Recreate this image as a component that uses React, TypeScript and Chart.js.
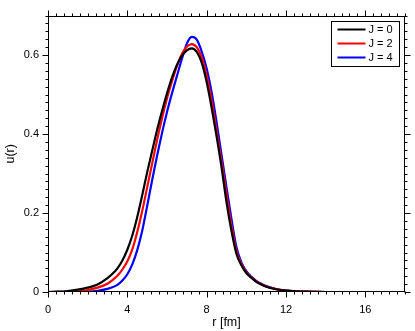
import React, { useEffect, useRef } from "react";
import { Chart, registerables } from "chart.js";

Chart.register(...registerables);

const rValues = [
  0, 0.5, 1, 1.5, 2, 2.5, 3,
  3.25, 3.5, 3.75, 4, 4.25, 4.5, 4.75, 5, 5.25, 5.5, 5.75, 6, 6.25, 6.5, 6.75, 7, 7.25, 7.5, 7.75, 8,
  8.25, 8.5, 8.75, 9, 9.25, 9.5, 9.75, 10, 10.25, 10.5, 10.75, 11,
  11.5, 12, 12.5, 13, 13.5, 14, 15, 16, 17, 18,
];
const uJ0 = [
  0, 0.0007, 0.0025, 0.006, 0.011, 0.019, 0.035,
  0.046, 0.06, 0.08, 0.107, 0.143, 0.19, 0.245, 0.303, 0.357, 0.41, 0.458, 0.503, 0.543, 0.575, 0.598, 0.612, 0.617, 0.608, 0.581, 0.532,
  0.467, 0.394, 0.316, 0.228, 0.155, 0.097, 0.068, 0.048, 0.036, 0.026, 0.019, 0.0135,
  0.007, 0.0035, 0.0017, 0.0008, 0.0003, 0, 0, 0, 0, 0,
];
const uJ2 = [
  0, 0.0002, 0.001, 0.0025, 0.005, 0.011, 0.021,
  0.03, 0.041, 0.057, 0.078, 0.108, 0.152, 0.205, 0.265, 0.325, 0.385, 0.44, 0.49, 0.533, 0.572, 0.603, 0.621, 0.628, 0.62, 0.594, 0.548,
  0.485, 0.408, 0.33, 0.248, 0.168, 0.104, 0.071, 0.05, 0.037, 0.027, 0.02, 0.014,
  0.0072, 0.0036, 0.0017, 0.0008, 0.0003, 0, 0, 0, 0, 0,
];
const uJ4 = [
  0, 0, 0.0001, 0.0004, 0.001, 0.003, 0.008,
  0.012, 0.018, 0.029, 0.045, 0.07, 0.106, 0.155, 0.218, 0.283, 0.345, 0.403, 0.456, 0.503, 0.547, 0.59, 0.629, 0.646, 0.639, 0.609, 0.566,
  0.506, 0.43, 0.347, 0.265, 0.185, 0.114, 0.075, 0.053, 0.039, 0.028, 0.021, 0.015,
  0.0075, 0.0037, 0.0018, 0.0008, 0.0003, 0, 0, 0, 0, 0,
];

const seriesLabels = ["J = 0", "J = 2", "J = 4"];
const seriesColors = ["#000000", "#ff0000", "#0000ff"];

const xTickValues = [0, 4, 8, 12, 16];
const yTickValues = [0, 0.2, 0.4, 0.6];
const xMin = 0, xMax = 18, xMinorStep = 0.4;
const yMin = 0, yMax = 0.7, yMinorStep = 0.02;

const FONT = "'Liberation Sans', Arial, Helvetica, sans-serif";

const framePlugin = {
  id: "frameTicks",
  afterDraw(chart: any) {
    const ctx = chart.ctx;
    const { left, right, top, bottom } = chart.chartArea;
    const xs = chart.scales.x;
    const ys = chart.scales.y;
    ctx.save();
    ctx.strokeStyle = "#000";
    ctx.lineWidth = 1;
    const L = Math.round(left) + 0.5, R = Math.round(right) - 0.5;
    const T = Math.round(top) + 0.5, B = Math.round(bottom) - 0.5;
    ctx.strokeRect(L, T, R - L, B - T);
    ctx.beginPath();
    const nx = Math.round((xMax - xMin) / xMinorStep);
    for (let i = 0; i <= nx; i++) {
      const v = xMin + i * xMinorStep;
      const len = i % 10 === 0 ? 6 : 3;
      const px = Math.round(xs.getPixelForValue(v)) + 0.5;
      ctx.moveTo(px, B); ctx.lineTo(px, B + len);
      ctx.moveTo(px, T); ctx.lineTo(px, T - len);
    }
    const ny = Math.round((yMax - yMin) / yMinorStep);
    for (let i = 0; i <= ny; i++) {
      const v = yMin + i * yMinorStep;
      const len = i % 10 === 0 ? 6 : 3;
      const py = Math.round(ys.getPixelForValue(v)) + 0.5;
      ctx.moveTo(L, py); ctx.lineTo(L - len, py);
      ctx.moveTo(R, py); ctx.lineTo(R + len, py);
    }
    ctx.stroke();

    // legend
    const bw = 68, bh = 45;
    const bx = Math.round(right) - 6 - bw + 0.5;
    const by = Math.round(top) + 5 + 0.5;
    ctx.fillStyle = "#fff";
    ctx.fillRect(bx, by, bw, bh);
    ctx.strokeStyle = "#000";
    ctx.lineWidth = 1;
    ctx.strokeRect(bx, by, bw, bh);
    ctx.font = `11px ${FONT}`;
    ctx.textBaseline = "middle";
    ctx.textAlign = "left";
    chart.data.datasets.forEach((ds: any, i: number) => {
      const yy = by + 8 + i * 14;
      ctx.strokeStyle = ds.borderColor;
      ctx.lineWidth = 2;
      ctx.beginPath();
      ctx.moveTo(bx + 6, yy);
      ctx.lineTo(bx + 34, yy);
      ctx.stroke();
      ctx.fillStyle = "#000";
      ctx.fillText(ds.label, bx + 37, yy + 0.5);
    });
    ctx.restore();
  },
};

export default function App() {
  const ref = useRef<HTMLCanvasElement | null>(null);
  useEffect(() => {
    if (!ref.current) return;
    const series = [uJ0, uJ2, uJ4];
    const chart = new Chart(ref.current, {
      type: "line",
      data: {
        datasets: series.map((s, i) => ({
          label: seriesLabels[i],
          data: rValues.map((r, k) => ({ x: r, y: s[k] })),
          borderColor: seriesColors[i],
          backgroundColor: seriesColors[i],
          borderWidth: 2.2,
          pointRadius: 0,
          cubicInterpolationMode: "monotone" as const,
          fill: false,
        })),
      },
      options: {
        animation: false,
        responsive: false,
        maintainAspectRatio: false,
        layout: { padding: { top: 11, right: 10, left: 0, bottom: 0 } },
        plugins: { legend: { display: false }, tooltip: { enabled: false } },
        scales: {
          x: {
            type: "linear",
            min: xMin,
            max: xMax,
            border: { display: false },
            grid: { display: false, drawTicks: false },
            afterBuildTicks: (s: any) => { s.ticks = xTickValues.map((v) => ({ value: v })); },
            afterFit: (s: any) => { s.height = 39; },
            ticks: {
              padding: 11,
              color: "#000",
              maxRotation: 0,
              font: { family: FONT, size: 11 },
              callback: (v: any) => String(v),
            },
            title: {
              display: true,
              text: "r [fm]",
              color: "#000",
              font: { family: FONT, size: 12.5 },
              padding: { top: 0, bottom: 1 },
            },
          },
          y: {
            type: "linear",
            min: yMin,
            max: yMax,
            border: { display: false },
            grid: { display: false, drawTicks: false },
            afterBuildTicks: (s: any) => { s.ticks = yTickValues.map((v) => ({ value: v })); },
            afterFit: (s: any) => { s.width = 48; },
            ticks: {
              padding: 9,
              color: "#000",
              font: { family: FONT, size: 11 },
              callback: (v: any) => (v === 0 ? "0" : Number(v).toFixed(1)),
            },
            title: {
              display: true,
              text: "u(r)",
              color: "#000",
              font: { family: FONT, size: 12.5 },
              padding: { top: 3, bottom: 0 },
            },
          },
        },
      },
      plugins: [framePlugin],
    });
    return () => chart.destroy();
  }, []);
  return (
    <div style={{ position: "absolute", left: 0, top: 0, width: 415, height: 331, background: "#fff" }}>
      <canvas ref={ref} width={415} height={331} style={{ width: 415, height: 331, display: "block" }} />
    </div>
  );
}
